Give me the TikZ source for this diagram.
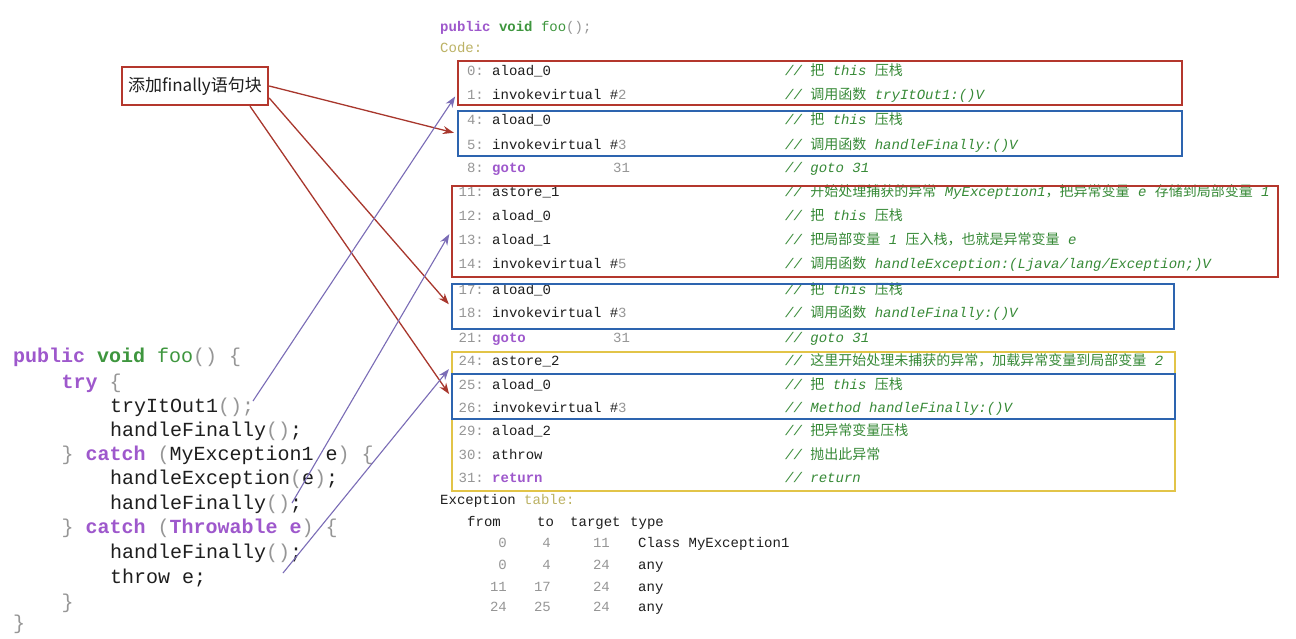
\documentclass[tikz,border=0pt]{standalone}
\usepackage{fontspec}
\usetikzlibrary{arrows.meta}
\newfontfamily\mono{Liberation Mono}
\newfontfamily\cjk{Noto Sans CJK SC}
\definecolor{kw}{RGB}{158,88,204}
\definecolor{gr}{RGB}{62,150,62}
\definecolor{cm}{RGB}{55,138,55}
\definecolor{ng}{RGB}{150,150,150}
\definecolor{ol}{RGB}{188,178,100}
\definecolor{dk}{RGB}{30,30,30}
\definecolor{bred}{RGB}{180,55,45}
\definecolor{bblue}{RGB}{45,100,175}
\definecolor{byel}{RGB}{226,196,72}
\definecolor{ared}{RGB}{168,55,45}
\definecolor{apur}{RGB}{122,108,182}
\newcommand\zhtxt[1]{{\cjk\upshape #1}}
\newcommand\gry[1]{{\color{ng}#1}}
\newcommand\kwd[1]{{\bfseries\color{kw}#1}}
\newcommand\bcline[4]{%
  \node[num] (n#1) at (484,#2) {#1:};
  \node[ins] (i#1) at (492,#2) {#3};
  \node[cmt] (c#1) at (785,#2) {#4};}
\begin{document}
\begin{tikzpicture}[x=1pt,y=-1pt,
  txt/.style={inner sep=0pt, font=\mono\fontsize{14}{16}\selectfont},
  num/.style={txt, anchor=base east, text=ng},
  ins/.style={txt, anchor=base west, text=dk},
  cmt/.style={inner sep=0pt, anchor=base west, text=cm, font=\mono\fontsize{14}{16}\selectfont\itshape},
  src/.style={inner sep=0pt, anchor=base west, text=dk, font=\mono\fontsize{20}{24}\selectfont},
  bx/.style={draw, line width=2.4pt, inner sep=0pt, rectangle},
  rarr/.style={draw=ared, line width=1.3pt, -{Stealth[length=11pt,width=8pt]}, shorten >=3pt},
  parr/.style={draw=apur, line width=1.1pt, -{Stealth[length=11pt,width=8pt]}, shorten >=3pt},
]
\fill[white] (0,0) rectangle (1296,638);
\useasboundingbox (0,0) rectangle (1296,638);

% header
\node[txt, anchor=base west] (hdr) at (440,31.5) {\kwd{public} {\bfseries\color{gr}void} {\color{gr}foo}\gry{();}};
\node[txt, anchor=base west, text=ol] (code) at (440,52.5) {Code:};

% bytecode lines
\bcline{0}{75.5}{aload\_0}{// \zhtxt{把} this \zhtxt{压栈}}
\bcline{1}{99.5}{invokevirtual \#\gry{2}}{// \zhtxt{调用函数} tryItOut1:()V}
\bcline{4}{124.5}{aload\_0}{// \zhtxt{把} this \zhtxt{压栈}}
\bcline{5}{149.5}{invokevirtual \#\gry{3}}{// \zhtxt{调用函数} handleFinally:()V}
\bcline{8}{172.5}{\kwd{goto}}{// goto 31}
\node[ins, text=ng] (g8) at (613,172.5) {31};
\bcline{11}{196.5}{astore\_1}{// \zhtxt{开始处理捕获的异常} MyException1\zhtxt{，把异常变量} e \zhtxt{存储到局部变量} 1}
\bcline{12}{220.5}{aload\_0}{// \zhtxt{把} this \zhtxt{压栈}}
\bcline{13}{244.5}{aload\_1}{// \zhtxt{把局部变量} 1 \zhtxt{压入栈，也就是异常变量} e}
\bcline{14}{268.5}{invokevirtual \#\gry{5}}{// \zhtxt{调用函数} handleException:(Ljava/lang/Exception;)V}
\bcline{17}{294.5}{aload\_0}{// \zhtxt{把} this \zhtxt{压栈}}
\bcline{18}{317.5}{invokevirtual \#\gry{3}}{// \zhtxt{调用函数} handleFinally:()V}
\bcline{21}{342.5}{\kwd{goto}}{// goto 31}
\node[ins, text=ng] (g21) at (613,342.5) {31};
\bcline{24}{365.5}{astore\_2}{// \zhtxt{这里开始处理未捕获的异常，加载异常变量到局部变量} 2}
\bcline{25}{389.5}{aload\_0}{// \zhtxt{把} this \zhtxt{压栈}}
\bcline{26}{412.5}{invokevirtual \#\gry{3}}{// Method handleFinally:()V}
\bcline{29}{435.5}{aload\_2}{// \zhtxt{把异常变量压栈}}
\bcline{30}{459.5}{athrow}{// \zhtxt{抛出此异常}}
\bcline{31}{482.5}{\kwd{return}}{// return}

% exception table
\node[ins] (et) at (440,504.5) {Exception {\color{ol}table:}};
\node[ins] (thf) at (467,526.5) {from};
\node[ins] (tht) at (537,526.5) {to};
\node[ins] (thg) at (570,526.5) {target};
\node[ins] (thy) at (630,526.5) {type};
\node[num] (r1a) at (507,547.5) {0};
\node[num] (r1b) at (551,547.5) {4};
\node[num] (r1c) at (610,547.5) {11};
\node[ins] (r1d) at (638,547.5) {Class MyException1};
\node[num] (r2a) at (507,569) {0};
\node[num] (r2b) at (551,569) {4};
\node[num] (r2c) at (610,569) {24};
\node[ins] (r2d) at (638,569) {any};
\node[num] (r3a) at (507,591) {11};
\node[num] (r3b) at (551,591) {17};
\node[num] (r3c) at (610,591) {24};
\node[ins] (r3d) at (638,591) {any};
\node[num] (r4a) at (507,611.5) {24};
\node[num] (r4b) at (551,611.5) {25};
\node[num] (r4c) at (610,611.5) {24};
\node[ins] (r4d) at (638,611.5) {any};

% boxes
\node[bx, draw=bred, minimum width=724pt, minimum height=44pt] (red1) at (820,83) {};
\node[bx, draw=bblue, minimum width=724pt, minimum height=45pt] (blue1) at (820,133.5) {};
\node[bx, draw=bred, minimum width=826pt, minimum height=91pt] (red2) at (865,231.5) {};
\node[bx, draw=bblue, minimum width=722pt, minimum height=45pt] (blue2) at (813,306.5) {};
\node[bx, draw=byel, minimum width=723pt, minimum height=139pt] (yellow) at (813.5,421.5) {};
\node[bx, draw=bblue, minimum width=723pt, minimum height=45pt] (blue3) at (813.5,396.5) {};

% source code
\node[src] (s1) at (13,362) {\kwd{public} {\bfseries\color{gr}void} {\color{gr}foo}\gry{() \{}};
\node[src] (s2) at (61.4,388) {\kwd{try} \gry{\{}};
\node[src] (s3) at (109.8,412) {tryItOut1\gry{();}};
\node[src] (s4) at (109.8,436) {handleFinally\gry{()};};
\node[src] (s5) at (61.4,460) {\gry{\}} \kwd{catch} \gry{(}MyException1 e\gry{)} \gry{\{}};
\node[src] (s6) at (109.8,484) {handleException\gry{(}e\gry{)};};
\node[src] (s7) at (109.8,509) {handleFinally\gry{()};};
\node[src] (s8) at (61.4,533) {\gry{\}} \kwd{catch} \gry{(}\kwd{Throwable e}\gry{)} \gry{\{}};
\node[src] (s9) at (109.8,558) {handleFinally\gry{()};};
\node[src] (s10) at (109.8,583) {throw e;};
\node[src] (s11) at (61.4,608) {\gry{\}}};
\node[src] (s12) at (13,629) {\gry{\}}};

% callout
\node[draw=bred, line width=2.4pt, inner sep=0pt, minimum width=146pt, minimum height=38pt,
      font=\cjk\fontsize{17}{19}\selectfont, text=dk] (callout) at (195,86) {添加finally语句块};

% arrows
\draw[rarr] (callout.east) -- (blue1.west);
\draw[rarr] ([yshift=-12pt]callout.east) -- (blue2.west);
\draw[rarr] ([xshift=55pt]callout.south) -- (blue3.west);
\coordinate (p1) at (253,401);
\coordinate (p2) at (292,503);
\coordinate (p3) at (283,573);
\draw[parr] (p1) -- ([yshift=-11pt]red1.west);
\draw[parr] (p2) -- (red2.west);
\draw[parr] (p3) -- ([yshift=-16pt]yellow.north west);
\end{tikzpicture}
\end{document}
